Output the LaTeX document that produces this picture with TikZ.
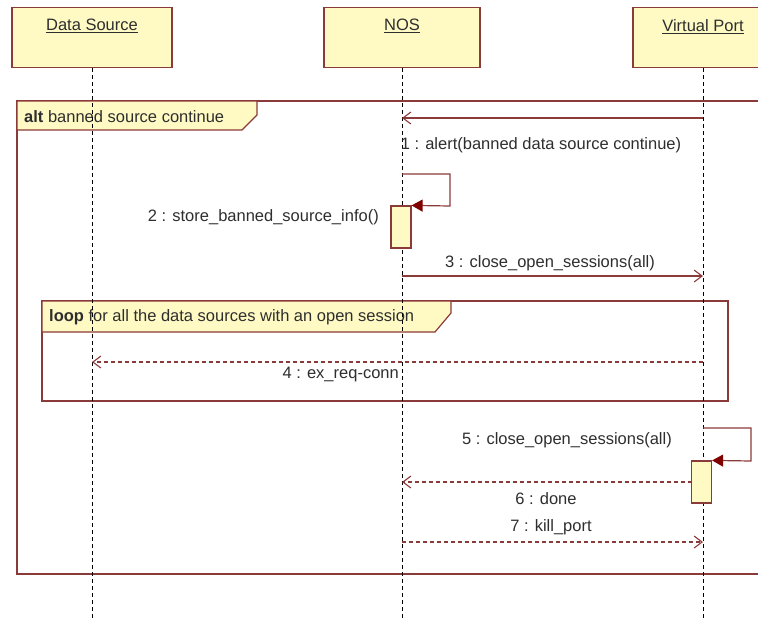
\documentclass[tikz,border=0pt]{standalone}
\usepackage{fontspec}
\setmainfont{Liberation Sans}
\usetikzlibrary{arrows.meta,positioning}

\definecolor{umlfill}{HTML}{FFFAC4}
\definecolor{umlline}{HTML}{8B3A3A}
\definecolor{umltip}{HTML}{800000}
\definecolor{umltext}{HTML}{2E2E2E}

\tikzset{
    head/.style={draw=umlline, fill=umlfill, line width=1.2pt, minimum height=60pt, anchor=north, inner sep=0pt},
    life/.style={draw=black, line width=1pt, dash pattern=on 4pt off 3pt},
    frame/.style={draw=umlline, line width=1.2pt},
    msg/.style={draw=umlline, line width=1.1pt, -{Straight Barb[length=8pt,width=12pt]}},
    reply/.style={msg, dash pattern=on 4pt off 3pt},
    selfmsg/.style={draw=umlline, line width=1.2pt, -{Triangle[length=11pt,width=12pt,color=umltip]}},
    act/.style={draw=umlline, fill=umlfill, line width=1.2pt, minimum width=20pt, minimum height=42pt, inner sep=0pt},
    lbl/.style={text=umltext, inner sep=0pt, font=\fontsize{16.5}{19}\selectfont},
}

\begin{document}
\begin{tikzpicture}[x=1pt, y=-1pt]
        \useasboundingbox(0,0)rectangle(758,619);
        \clip(0,0)rectangle(758,619);
        % frames
        \path[frame](17,101)rectangle(800,574);
        \path[frame, fill=umlfill](17,101)--(257,101)--(257,115)--(242,130)--(17,130)--cycle;
        \node[lbl, anchor=west](alt)at(24,117){\textbf{alt} banned source continue};
        \path[frame](42,301)rectangle(728,401);
        \path[frame, fill=umlfill](42,301)--(451,301)--(451,313)--(435,332)--(42,332)--cycle;
        \node[lbl, anchor=west](loop)at(49,317){\textbf{loop} for all the data sources with an open session};
        % lifelines
        \node[head, minimum width=160pt, label={[lbl, anchor=north, yshift=-12pt]north:\underline{Data Source}}](ds)at(92,7){};
        \node[head, minimum width=156pt, label={[lbl, anchor=north, yshift=-12pt]north:\underline{NOS}}](nos)at(402,7){};
        \node[head, minimum width=140pt, label={[lbl, anchor=north, yshift=-12pt]north:\underline{Virtual Port}}](vp)at(703,7){};
        \foreach \n/\x in {ds/92, nos/402, vp/703}
        {
            \coordinate(\n end)at(\x,619);
            \path[life](\n.south)to(\n end);
        }
        % activations
        \node[act](act2)at(401,227){};
        \node[act](act5)at(701.5,482){};
        % messages
        \coordinate(m1a)at(703,118);
        \coordinate(m1b)at(402,118);
        \path[msg](m1a)to(m1b);
        \node[lbl](m1)at(541,145){1 : alert(banned data source continue)};
        \path[selfmsg](402,174)--(450,174)--(450,206)--(act2.north east);
        \node[lbl, anchor=east](m2)at(379,217){2 : store\_banned\_source\_info()};
        \coordinate(m3a)at(402,276);
        \coordinate(m3b)at(703,276);
        \path[msg](m3a)to(m3b);
        \node[lbl](m3)at(550,263){3 : close\_open\_sessions(all)};
        \coordinate(m4a)at(703,362);
        \coordinate(m4b)at(92,362);
        \path[reply](m4a)to(m4b);
        \node[lbl, anchor=east](m4)at(399,375){4 : ex\_req-conn};
        \path[selfmsg](703,428)--(751,428)--(751,461)--(act5.north east);
        \node[lbl, anchor=east](m5)at(672,440){5 : close\_open\_sessions(all)};
        \coordinate(m6a)at(692,482);
        \coordinate(m6b)at(402,482);
        \path[reply](m6a)to(m6b);
        \node[lbl](m6)at(546,499){6 : done};
        \coordinate(m7a)at(402,542);
        \coordinate(m7b)at(703,542);
        \path[reply](m7a)to(m7b);
        \node[lbl](m7)at(551,527){7 : kill\_port};
\end{tikzpicture}
\end{document}
